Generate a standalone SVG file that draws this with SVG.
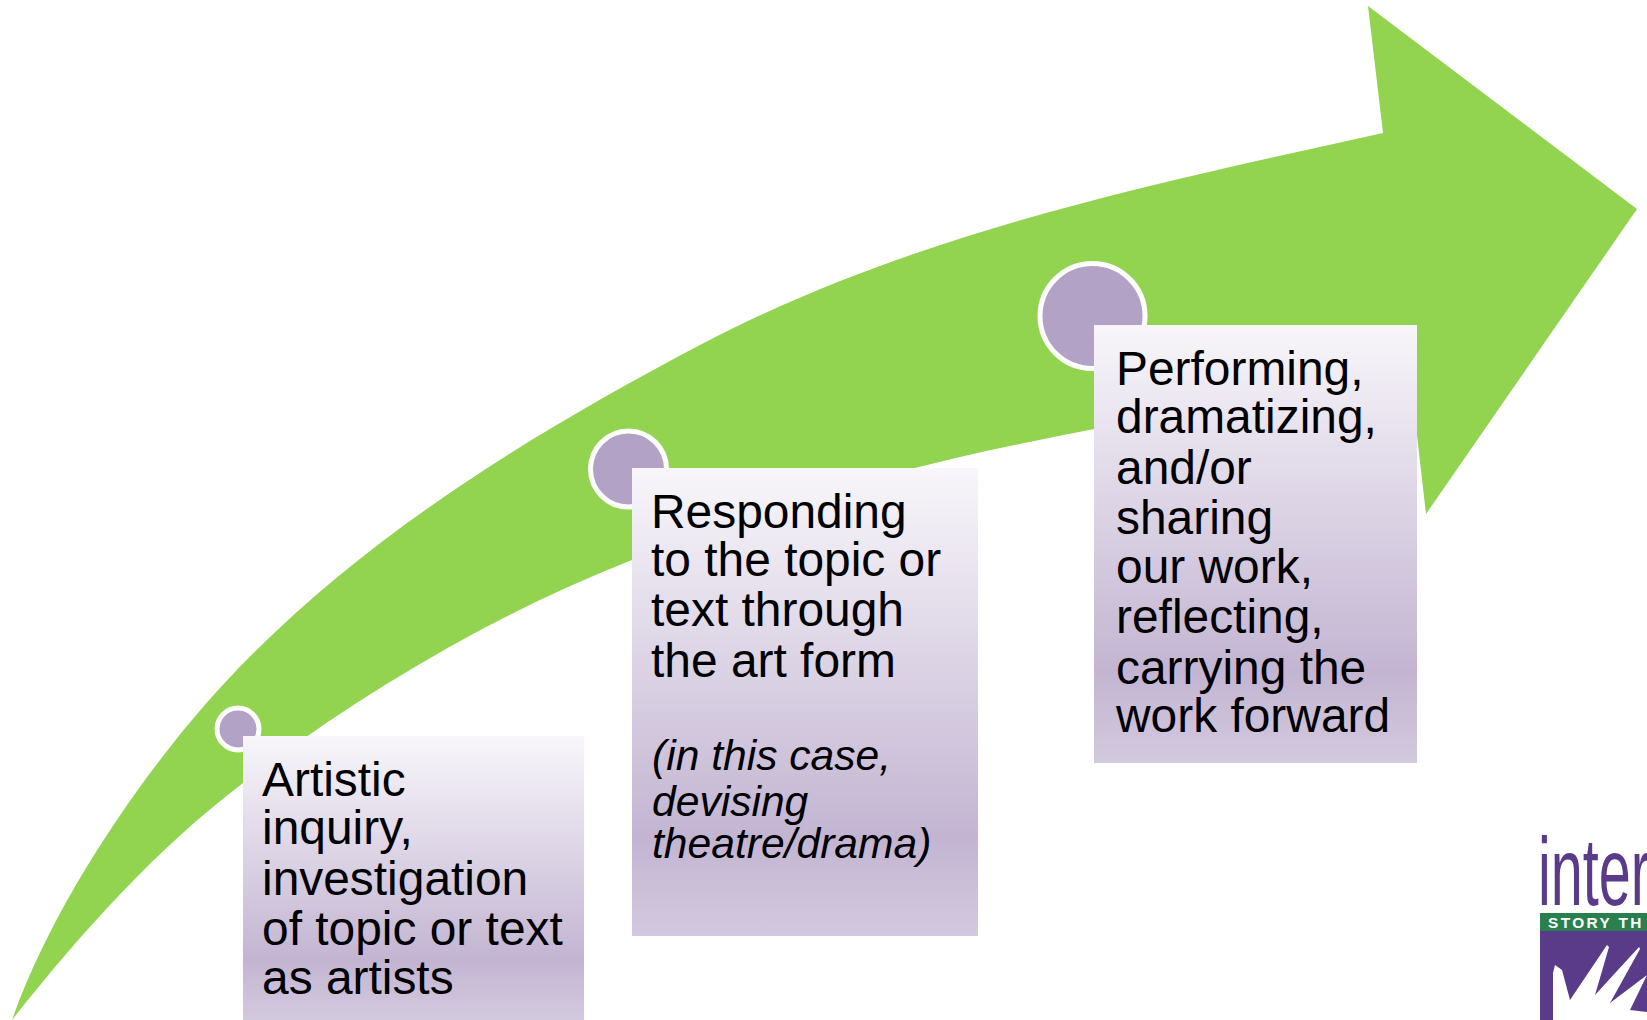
<svg xmlns="http://www.w3.org/2000/svg" width="1647" height="1020" viewBox="0 0 1647 1020">
<style>
.box{fill:url(#boxGrad)}
.dot{fill:#b1a2c6;stroke:#fff;stroke-width:5}
.t{font-family:"Liberation Sans",Arial,sans-serif;font-size:47.9px;fill:#000}
.i{font-family:"Liberation Sans",Arial,sans-serif;font-size:42.6px;font-style:italic;fill:#000}
</style>
<defs>
<linearGradient id="boxGrad" x1="0" y1="0" x2="0" y2="1">
<stop offset="0" stop-color="#f8f6fa"/>
<stop offset="0.79" stop-color="#c3b5d2"/>
<stop offset="1" stop-color="#d3c9de"/>
</linearGradient>
</defs>
<rect width="1647" height="1020" fill="#fff"/>
<g id="arrow">
<path fill="#92d350" d="M12,1020 C50,912 128,796 192,720 C327,559 514,443 700,345 C911,234 1151,184 1383,133 L1368,6 L1637,209 L1426,514 L1410,374 L1094,429 C937,459 779,498 632,560 C497,613 365,690 243,783 C155,850 80,934 12,1020 Z"/>
</g>
<g id="node-1">
<circle class="dot" cx="238" cy="729" r="21"/>
<rect class="box" x="243" y="736" width="341" height="284"/>
<text class="t" x="262" y="796">Artistic</text>
<text class="t" x="262" y="844">inquiry,</text>
<text class="t" x="262" y="895">investigation</text>
<text class="t" x="262" y="945">of topic or text</text>
<text class="t" x="262" y="994">as artists</text>
</g>
<g id="node-2">
<circle class="dot" cx="628.5" cy="469" r="38"/>
<rect class="box" x="632" y="468" width="346" height="468"/>
<text class="t" x="651" y="528">Responding</text>
<text class="t" x="651" y="576">to the topic or</text>
<text class="t" x="651" y="626">text through</text>
<text class="t" x="651" y="677">the art form</text>
<text class="i" x="652" y="770">(in this case,</text>
<text class="i" x="652" y="816">devising</text>
<text class="i" x="652" y="858">theatre/drama)</text>
</g>
<g id="node-3">
<circle class="dot" cx="1092.5" cy="316" r="52.5"/>
<rect class="box" x="1094" y="325" width="323" height="438"/>
<text class="t" x="1116" y="385">Performing,</text>
<text class="t" x="1116" y="433">dramatizing,</text>
<text class="t" x="1116" y="484">and/or</text>
<text class="t" x="1116" y="534">sharing</text>
<text class="t" x="1116" y="583">our work,</text>
<text class="t" x="1116" y="633">reflecting,</text>
<text class="t" x="1116" y="684">carrying the</text>
<text class="t" x="1116" y="732">work forward</text>
</g>
<g id="logo">
<text transform="translate(1538,905) scale(.6,1)" font-family="'Liberation Sans',Arial,sans-serif" font-size="96" fill="#5a3b8a">inter</text>
<rect x="1540" y="913" width="107" height="18" fill="#2a7f4f"/>
<text x="1548" y="928" font-family="'Liberation Sans',Arial,sans-serif" font-size="15.4" font-weight="700" letter-spacing="2.4" fill="#fff">STORY TH</text>
<rect x="1540" y="931" width="107" height="89" fill="#5a3b8a"/>
<path fill="#fff" d="M1553,1020 L1553,973 L1555,965 L1562,970 L1570,1000 L1607,945 L1609,947 L1595,995 L1639,947 L1640,949 L1610,1003 L1647,975 L1630,1010 L1647,1012 L1647,1020 Z"/>
</g>
</svg>
